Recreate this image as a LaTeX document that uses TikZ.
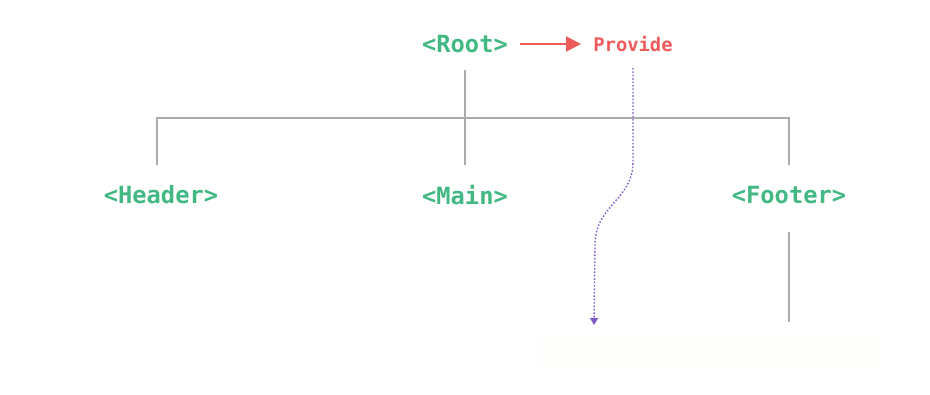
\documentclass[tikz,border=0pt]{standalone}
\usepackage{fontspec}
\setmonofont{DejaVu Sans Mono}
\usetikzlibrary{arrows.meta}
\definecolor{vgreen}{HTML}{42B883}
\definecolor{vred}{HTML}{EF5B5B}
\definecolor{vpurple}{HTML}{7E5BC8}
\definecolor{vgray}{HTML}{AAAAAA}
\definecolor{faint}{HTML}{FEFEFC}
\tikzset{
  comp/.style={font=\ttfamily\bfseries\fontsize{23.7}{26}\selectfont, text=vgreen, inner sep=0pt},
  prov/.style={font=\ttfamily\bfseries\fontsize{18.8}{22}\selectfont, text=vred, inner sep=0pt},
  tree/.style={draw=vgray, line width=1.3pt},
  inject/.style={draw=vpurple, line width=1.4pt, dash pattern=on 1.6pt off 1.8pt, -{Triangle[width=8pt,length=7pt]}},
}
\begin{document}
\begin{tikzpicture}[x=1pt,y=-1pt]
\useasboundingbox (0,0) rectangle (930,395);
\fill[faint] (537,333) rectangle (882,368);
\node[comp] (root) at (465,44) {<Root>};
\node[prov] (provide) at (633,44) {Provide};
\node[comp] (header) at (161,195) {<Header>};
\node[comp] (main) at (465,195) {<Main>};
\node[comp] (footer) at (789,195) {<Footer>};
\coordinate (hl) at (157,118);
\coordinate (hr) at (789,118);
\coordinate (mainTop) at (465,165);
\coordinate (headTop) at (157,165);
\coordinate (footTop) at (789,165);
\coordinate (rootBot) at (465,70);
\coordinate (fA) at (789,232);
\coordinate (fB) at (789,322);
\coordinate (pA) at (633,68);
\coordinate (pB) at (633,162);
\coordinate (pC) at (595,245);
\coordinate (pD) at (594,325);
\coordinate (aS) at (520,44);
\coordinate (aE) at (581,44);
\draw[vred, line width=2.6pt, -{Triangle[width=15pt,length=15pt]}] (aS) -- (aE);
\draw[tree] (rootBot) -- (mainTop);
\draw[tree] (headTop) -- (hl) -- (hr) -- (footTop);
\draw[tree] (fA) -- (fB);
\draw[inject] (pA) -- (pB) .. controls (633,200) and (595,205) .. (pC) -- (pD);
\end{tikzpicture}
\end{document}
